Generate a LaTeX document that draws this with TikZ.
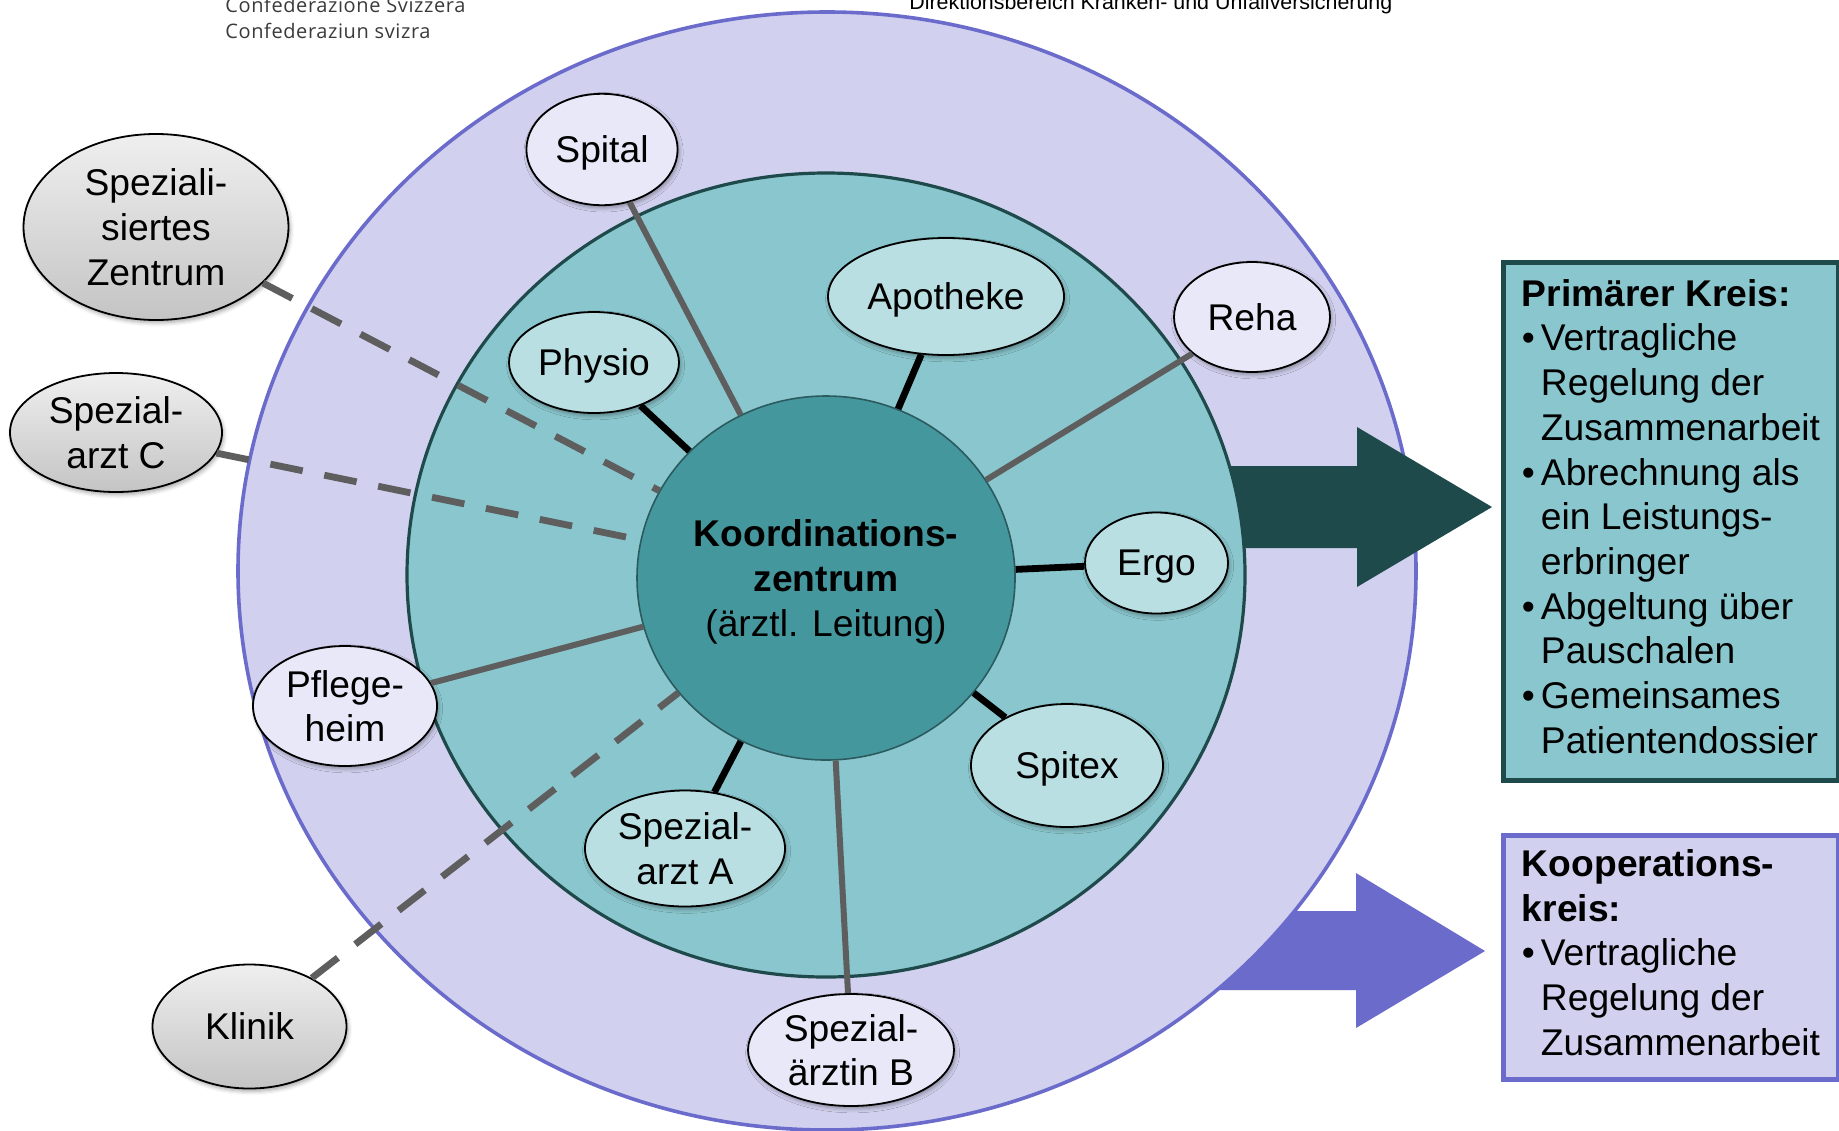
\documentclass[tikz,border=0pt]{standalone}
\usepackage{fontspec}
\setmainfont{Liberation Sans}
\newfontfamily\bundfont[LetterSpace=3]{Open Sans}
\usetikzlibrary{shapes.geometric,shadows.blur}
\definecolor{lavfill}{HTML}{D1D1EF}
\definecolor{lavline}{HTML}{6B6BCC}
\definecolor{lavpale}{HTML}{E8E8F8}
\definecolor{tealfill}{HTML}{8AC6CD}
\definecolor{tealdark}{HTML}{1F4A4C}
\definecolor{tealpale}{HTML}{B9DFE3}
\definecolor{zentrumfill}{HTML}{45979E}
\definecolor{zentrumline}{HTML}{2B5B5E}
\definecolor{extlight}{HTML}{EFEFEF}
\definecolor{extdark}{HTML}{C4C4C4}
\definecolor{tiegray}{HTML}{5E5E5E}
\definecolor{bundgray}{HTML}{3A3A3A}
\newcommand\bpunkt{\makebox[9.5pt][l]{\textbullet}}
\newcommand\bweiter{\hspace*{9.5pt}}
\begin{document}
\begin{tikzpicture}[x=0.5pt, y=-0.5pt,
    font=\fontsize{18.6}{22.35}\selectfont,
    bubble/.style={ellipse, draw, line width=0.9pt, inner sep=0pt, align=center, text depth=0pt,
      blur shadow={shadow xshift=0.8pt, shadow yshift=-1.4pt, shadow blur radius=2pt, shadow opacity=35}},
    dims/.style 2 args={minimum width=#1pt, minimum height=#2pt},
    pbubble/.style={bubble, fill=tealpale},
    kbubble/.style={bubble, fill=lavpale},
    xbubble/.style={bubble, top color=extlight, bottom color=extdark},
    tie/.style={line width=3.4pt},
    loosetie/.style={line width=3pt, draw=tiegray},
    dashtie/.style={line width=3.4pt, draw=tiegray, dash pattern=on 16.5pt off 11pt},
    infobox/.style={rectangle, anchor=north west, align=left, inner sep=0pt, text depth=5pt,
      minimum width=167.5pt, line width=2.5pt}]
  \useasboundingbox (0,0) rectangle (1839,1130);
  \node[anchor=base west, inner sep=0pt, text=bundgray, font=\bundfont\fontsize{10}{12}\selectfont] (bund1) at (225,12) {Confederazione Svizzera};
  \node[anchor=base west, inner sep=0pt, text=bundgray, font=\bundfont\fontsize{10}{12}\selectfont] (bund2) at (225,38) {Confederaziun svizra};
  \node[anchor=base west, inner sep=0pt, font=\fontsize{10.7}{12}\selectfont] (bereich) at (909,9) {Direktionsbereich Kranken- und Unfallversicherung};

  % circles and arrows
  \fill[lavline] (1100,911) -- (1356,911) -- (1356,873) -- (1485,951) -- (1356,1028) -- (1356,990) -- (1100,990) -- cycle;
  \filldraw[fill=lavfill, draw=lavline, line width=1.8pt] (827,571) ellipse [x radius=589, y radius=559];
  \fill[tealdark] (1220,466) -- (1357,466) -- (1357,427) -- (1492,507) -- (1357,587) -- (1357,548) -- (1220,548) -- cycle;
  \filldraw[fill=tealfill, draw=tealdark, line width=1.6pt] (826,575) ellipse [x radius=419, y radius=402];

  \node[ellipse, draw=zentrumline, line width=0.8pt, fill=zentrumfill, inner sep=0pt, align=center, text depth=0pt, dims={189}{182}]
    (zentrum) at (826,578) {\textbf{Koordinations-}\\\textbf{zentrum}\\(ärztl. Leitung)};

  \node[kbubble, dims={75.6}{55.7}] (spital) at (602,149.5) {Spital};
  \node[pbubble, dims={118}{58.5}] (apotheke) at (946,296.5) {Apotheke};
  \node[kbubble, dims={78}{55}] (reha) at (1252,317) {Reha};
  \node[pbubble, dims={85}{50.5}] (physio) at (594,362.5) {Physio};
  \node[pbubble, dims={71.5}{50.5}] (ergo) at (1156.5,563) {Ergo};
  \node[pbubble, dims={96}{61.5}] (spitex) at (1067,765.5) {Spitex};
  \node[pbubble, dims={100}{58}] (arztA) at (685,848.5) {Spezial-\\arzt A};
  \node[kbubble, dims={103}{56}] (arztB) at (851,1050) {Spezial-\\ärztin B};
  \node[kbubble, dims={92}{60}] (pflege) at (345,706) {Pflege-\\heim};
  \node[xbubble, dims={132.5}{93}] (spezzentrum) at (156,227) {Speziali-\\siertes\\Zentrum};
  \node[xbubble, dims={106}{59.5}] (arztC) at (116,432.5) {Spezial-\\arzt C};
  \node[xbubble, dims={97}{62}] (klinik) at (249.5,1026.5) {Klinik};

  \draw[tie] (apotheke) -- (zentrum);
  \draw[tie] (physio) -- (zentrum);
  \draw[tie] (ergo) -- (zentrum);
  \draw[tie] (spitex) -- (zentrum);
  \draw[tie] (arztA) -- (zentrum);
  \draw[loosetie] (spital) -- (zentrum);
  \draw[loosetie] (reha) -- (zentrum);
  \draw[loosetie] (arztB) -- (zentrum);
  \draw[loosetie] (pflege) -- (zentrum);
  \draw[dashtie] (spezzentrum) -- (zentrum);
  \draw[dashtie] (arztC) -- (zentrum);
  \draw[dashtie] (klinik) -- (zentrum);

  \node[infobox, draw=tealdark, fill=tealfill, minimum height=258.8pt] (primaer) at (1501,260) {\textbf{Primärer Kreis:}\\
    \bpunkt Vertragliche\\
    \bweiter Regelung der\\
    \bweiter Zusammenarbeit\\
    \bpunkt Abrechnung als\\
    \bweiter ein Leistungs-\\
    \bweiter erbringer\\
    \bpunkt Abgeltung über\\
    \bweiter Pauschalen\\
    \bpunkt Gemeinsames\\
    \bweiter Patientendossier};
  \node[infobox, draw=lavline, fill=lavfill, minimum height=122pt] (kooperation) at (1501,833) {\textbf{Kooperations-}\\
    \textbf{kreis:}\\
    \bpunkt Vertragliche\\
    \bweiter Regelung der\\
    \bweiter Zusammenarbeit};
\end{tikzpicture}
\end{document}
